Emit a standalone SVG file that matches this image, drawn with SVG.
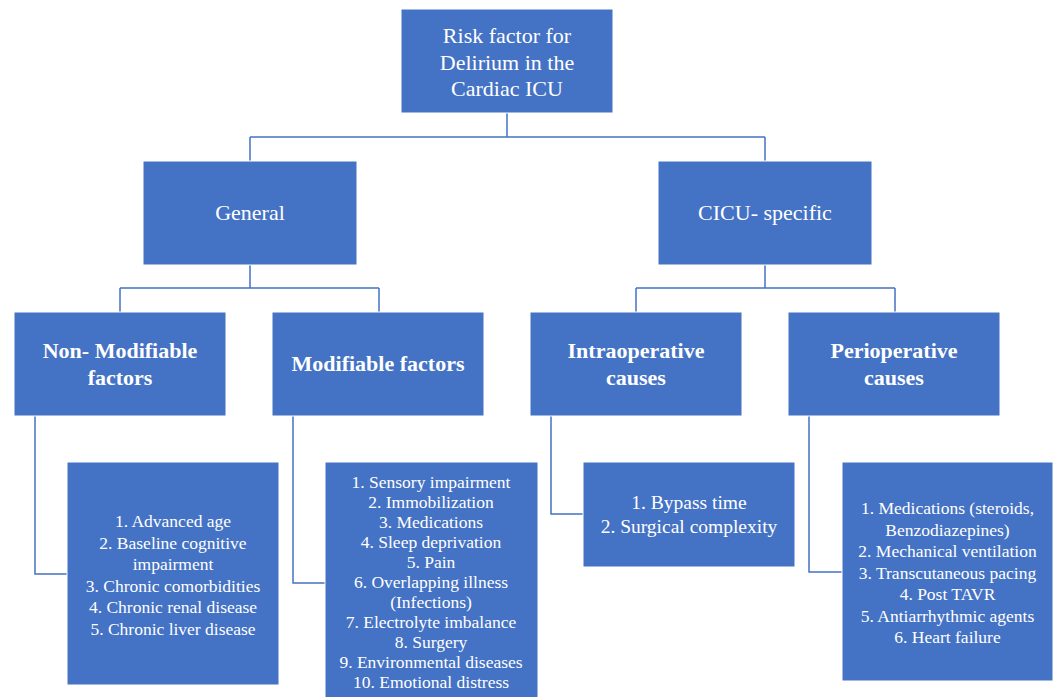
<svg xmlns="http://www.w3.org/2000/svg" width="1064" height="697" viewBox="0 0 1064 697">
<style>
.box{fill:#4472C4;stroke:#ffffff;stroke-width:1}
.t{fill:#ffffff;text-anchor:middle}
.r{font-size:22px}
.b{font-size:22px;font-weight:bold}
.l{font-size:17.5px}
.c{fill:none;stroke:#4472C4;stroke-width:1.5}
</style>
<rect width="1064" height="697" fill="#ffffff"/>
<g id="connectors">
<path class="c" d="M507 113V137M250 137H765M250 137V161M765 137V161"/>
<path class="c" d="M250 265V288M120 288H379M120 288V312M379 288V312"/>
<path class="c" d="M765 265V288M636 288H895M636 288V312M895 288V312"/>
<path class="c" d="M35 416V574H67"/>
<path class="c" d="M293 416V583H325"/>
<path class="c" d="M551 416V514H583"/>
<path class="c" d="M809 416V572H842"/>
</g>
<g font-family="Liberation Serif, serif">
<g id="root">
<rect class="box" x="401" y="9" width="212" height="104"/>
<text class="t r" x="507" y="43">Risk factor for</text>
<text class="t r" x="507" y="69.5">Delirium in the</text>
<text class="t r" x="507" y="96">Cardiac ICU</text>
</g>
<g id="general">
<rect class="box" x="143" y="161" width="214" height="104"/>
<text class="t r" x="250" y="220">General</text>
</g>
<g id="cicu">
<rect class="box" x="658" y="161" width="214" height="104"/>
<text class="t r" x="765" y="220">CICU- specific</text>
</g>
<g id="nonmod">
<rect class="box" x="14" y="312" width="212" height="104"/>
<text class="t b" x="120" y="358">Non- Modifiable</text>
<text class="t b" x="120" y="385">factors</text>
</g>
<g id="mod">
<rect class="box" x="272" y="312" width="212" height="104"/>
<text class="t b" x="378" y="371">Modifiable factors</text>
</g>
<g id="intra">
<rect class="box" x="530" y="312" width="212" height="104"/>
<text class="t b" x="636" y="358">Intraoperative</text>
<text class="t b" x="636" y="385">causes</text>
</g>
<g id="peri">
<rect class="box" x="788" y="312" width="212" height="104"/>
<text class="t b" x="894" y="358">Perioperative</text>
<text class="t b" x="894" y="385">causes</text>
</g>
<g id="nonmod-list">
<rect class="box" x="67" y="462" width="212" height="223"/>
<text class="t l" x="173" y="527">1. Advanced age</text>
<text class="t l" x="173" y="548.5">2. Baseline cognitive</text>
<text class="t l" x="173" y="570">impairment</text>
<text class="t l" x="173" y="591.5">3. Chronic comorbidities</text>
<text class="t l" x="173" y="613">4. Chronic renal disease</text>
<text class="t l" x="173" y="634.5">5. Chronic liver disease</text>
</g>
<g id="mod-list">
<rect class="box" x="325" y="462" width="213" height="240"/>
<text class="t l" x="431" y="488">1. Sensory impairment</text>
<text class="t l" x="431" y="508">2. Immobilization</text>
<text class="t l" x="431" y="528">3. Medications</text>
<text class="t l" x="431" y="548">4. Sleep deprivation</text>
<text class="t l" x="431" y="568">5. Pain</text>
<text class="t l" x="431" y="588">6. Overlapping illness</text>
<text class="t l" x="431" y="608">(Infections)</text>
<text class="t l" x="431" y="628">7. Electrolyte imbalance</text>
<text class="t l" x="431" y="648">8. Surgery</text>
<text class="t l" x="431" y="668">9. Environmental diseases</text>
<text class="t l" x="431" y="688">10. Emotional distress</text>
</g>
<g id="intra-list">
<rect class="box" x="583" y="462" width="212" height="105"/>
<text class="t" font-size="19.5" x="689" y="509">1. Bypass time</text>
<text class="t" font-size="19.5" x="689" y="533">2. Surgical complexity</text>
</g>
<g id="peri-list">
<rect class="box" x="842" y="462" width="211" height="219"/>
<text class="t l" x="947.5" y="514">1. Medications (steroids,</text>
<text class="t l" x="947.5" y="535.5">Benzodiazepines)</text>
<text class="t l" x="947.5" y="557">2. Mechanical ventilation</text>
<text class="t l" x="947.5" y="578.5">3. Transcutaneous pacing</text>
<text class="t l" x="947.5" y="600">4. Post TAVR</text>
<text class="t l" x="947.5" y="621.5">5. Antiarrhythmic agents</text>
<text class="t l" x="947.5" y="643">6. Heart failure</text>
</g>
</g>
</svg>
